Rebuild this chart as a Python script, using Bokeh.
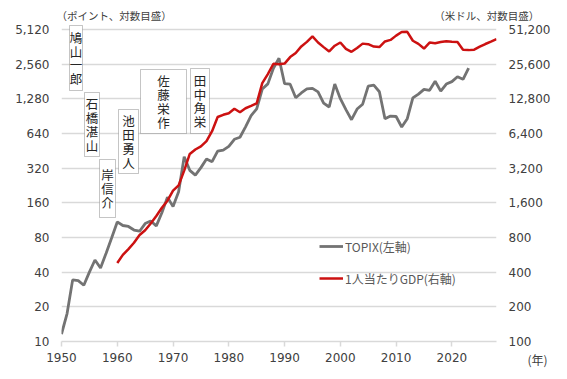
from bokeh.plotting import figure
from bokeh.models import (Range1d, LogAxis, LogScale, FixedTicker, NumeralTickFormatter,
                          Label, BoxAnnotation, Legend, LegendItem, Title)
from bokeh.embed import file_html
from bokeh.resources import INLINE

# ---------------- data ----------------
topix_years = list(range(1950, 2024))
topix = [11.6, 17.5, 34.3, 33.8, 30.8, 40.0, 51.0, 43.5, 58.5, 79.5,
         109.2, 101.7, 99.7, 92.9, 90.7, 105.7, 111.4, 100.9, 131.3, 179.3,
         148.4, 199.5, 401.7, 306.4, 278.3, 323.4, 383.9, 364.1, 449.6, 459.6,
         494.1, 570.3, 593.7, 731.8, 913.4, 1049.4, 1556.4, 1725.8, 2357.0, 2881.4,
         1733.8, 1714.7, 1307.7, 1439.3, 1559.1, 1577.7, 1470.9, 1175.0, 1087.0, 1722.2,
         1283.7, 1032.1, 843.3, 1043.7, 1149.6, 1649.8, 1681.1, 1475.7, 859.2, 907.6,
         898.8, 728.6, 859.8, 1302.3, 1407.5, 1547.3, 1518.6, 1817.6, 1494.1, 1721.4,
         1804.7, 1992.3, 1891.7, 2366.4]

gdp_years = list(range(1960, 2029))
gdp = [480, 565, 635, 720, 840, 925, 1060, 1230, 1450, 1670,
       2040, 2270, 3050, 4250, 4650, 4950, 5500, 6700, 8900, 9300,
       9600, 10500, 9800, 10600, 11100, 11700, 17500, 21000, 25800, 25600,
       25900, 29500, 32000, 36500, 40000, 44700, 39500, 36000, 33000, 37000,
       39500, 34800, 32800, 35400, 38600, 38200, 36400, 36000, 40300, 41600,
       45300, 48700, 48900, 40900, 38400, 35000, 39400, 38900, 39800, 40500,
       40100, 39900, 34100, 33900, 34200, 36300, 38300, 40200, 42300]

left_ticks = [10, 20, 40, 80, 160, 320, 640, 1280, 2560, 5120]
right_ticks = [100, 200, 400, 800, 1600, 3200, 6400, 12800, 25600, 51200]
x_ticks = [1950, 1960, 1970, 1980, 1990, 2000, 2010, 2020]
pm_names = ["鳩山一郎", "石橋湛山", "岸信介", "池田勇人", "佐藤栄作", "田中角栄"]
left_unit = "（ポイント、対数目盛）"
right_unit = "（米ドル、対数目盛）"
year_unit = "(年)"

# ---------------- layout helpers (pixel -> data) ----------------
W, H = 567, 379
FL, FR, FT, FB = 61, 496, 22, 341           # frame edges on page
PX_PER_YEAR = (FR - FL) / 78.0
PX_PER_DOUBLE = (FB - 29) / 9.0             # 10 -> 5120 spans 9 doublings

def yr(px):
    return 1950 + (px - FL) / PX_PER_YEAR

def lv(py):
    return 10 * 2 ** ((FB - py) / PX_PER_DOUBLE)

y_top = lv(FT)

p = figure(width=W, height=H, output_backend="svg", toolbar_location=None,
           x_range=Range1d(1950, 2028), y_range=Range1d(10, y_top),
           y_axis_type="log", title=None,
           min_border_left=FL, min_border_right=W - FR,
           min_border_top=FT, min_border_bottom=H - FB)
p.outline_line_color = None
p.background_fill_color = "white"

p.extra_y_ranges = {"gdp": Range1d(100, y_top * 10)}
p.extra_y_scales = {"gdp": LogScale()}

FONT = "Noto Sans CJK JP"
NUMFONT = "DejaVu Sans"
TXT = "#404040"

# x axis
xa = p.xaxis[0]
xa.ticker = FixedTicker(ticks=x_ticks)
xa.axis_line_color = "#d9d9d9"
xa.axis_line_width = 1.5
xa.major_tick_line_color = "#d9d9d9"
xa.major_tick_line_width = 1.5
xa.major_tick_out = 5
xa.major_tick_in = 0
xa.minor_tick_line_color = None
xa.major_label_standoff = 6
xa.major_label_text_font = NUMFONT
xa.major_label_text_font_size = "12px"
xa.major_label_text_color = TXT

# left axis
ya = p.yaxis[0]
ya.ticker = FixedTicker(ticks=left_ticks)
ya.formatter = NumeralTickFormatter(format="0,0")
ya.axis_line_color = None
ya.major_tick_line_color = None
ya.minor_tick_line_color = None
ya.major_tick_out = 0
ya.major_tick_in = 0
ya.major_label_standoff = 12
ya.major_label_text_font = NUMFONT
ya.major_label_text_font_size = "12px"
ya.major_label_text_color = TXT

# right axis
ra = LogAxis(y_range_name="gdp", ticker=FixedTicker(ticks=right_ticks),
             formatter=NumeralTickFormatter(format="0,0"))
ra.axis_line_color = None
ra.major_tick_line_color = None
ra.minor_tick_line_color = None
ra.major_tick_out = 0
ra.major_tick_in = 0
ra.major_label_standoff = 12
ra.major_label_text_font = NUMFONT
ra.major_label_text_font_size = "12px"
ra.major_label_text_color = TXT
p.add_layout(ra, "right")

p.xgrid.visible = False
p.ygrid.grid_line_color = "#d9d9d9"
p.ygrid.grid_line_width = 1.5
p.ygrid.minor_grid_line_color = None

# ---------------- PM boxes ----------------
boxes = [  # (left px, right px, top px, bottom px)
    (69, 82, 25, 90),
    (84, 99, 92, 156),
    (99, 115, 159, 217),
    (118, 138, 109, 173),
    (140, 186, 69, 133),
    (190, 209, 68, 133),
]
for name, (l, r, t, b) in zip(pm_names, boxes):
    p.add_layout(BoxAnnotation(left=yr(l), right=yr(r), top=lv(t), bottom=lv(b),
                               fill_color="white", fill_alpha=1.0,
                               line_color="#404040", line_width=1, level="underlay"))
    p.add_layout(Label(x=yr((l + r) / 2), y=lv((t + b) / 2), text="\n".join(name),
                       text_align="center", text_baseline="middle",
                       text_font=FONT, text_font_size="12.5px", text_line_height=0.72,
                       text_color="#262626"))

# ---------------- lines ----------------
r1 = p.line(topix_years, topix, line_color="#737373", line_width=2.8)
r2 = p.line(gdp_years, gdp, line_color="#cc1111", line_width=2.5, y_range_name="gdp")

legend = Legend(items=[LegendItem(label="TOPIX(左軸)", renderers=[r1]),
                       LegendItem(label="1人当たりGDP(右軸)", renderers=[r2])],
                location=(319 - FL, FB - 288), orientation="vertical",
                glyph_width=24, glyph_height=20, label_height=20, label_standoff=2,
                spacing=12, padding=0, margin=0,
                border_line_color=None, background_fill_alpha=0,
                label_text_font=FONT, label_text_font_size="12px",
                label_text_color="#595959")
p.add_layout(legend, "center")

# ---------------- unit titles (side panels, so they are not clipped) ----------------
gap = "\u3000" * 25 + "\u2002"
p.add_layout(Title(text=left_unit + gap + right_unit, align="left", offset=56 - FL,
                   standoff=0, text_font=FONT, text_font_size="10.5px",
                   text_font_style="normal", text_color=TXT), "above")

p.add_layout(Title(text=year_unit, align="left", offset=527 - FL, standoff=-28,
                   vertical_align="top",
                   text_font=FONT, text_font_size="12px", text_font_style="normal",
                   text_color=TXT), "below")

open("out.html", "w").write(file_html(p, INLINE))
